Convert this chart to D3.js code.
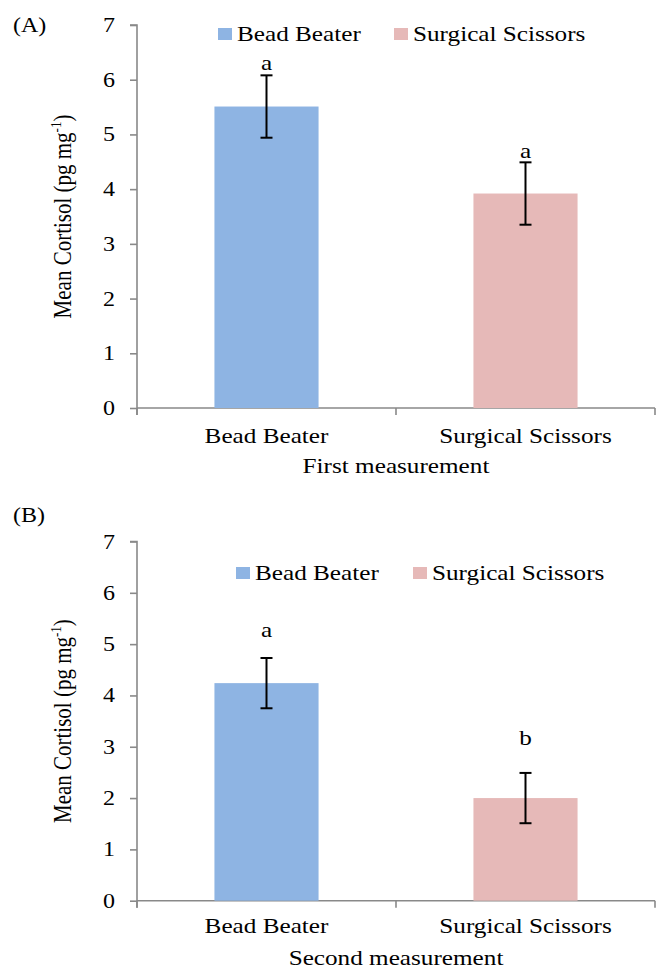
<!DOCTYPE html>
<html>
<head>
<meta charset="utf-8">
<script src="https://cdn.jsdelivr.net/npm/d3@7"></script>
<style>
body { margin: 0; background: #fff; }
text { font-family: "Liberation Serif", "Times New Roman", serif; fill: #000; }
</style>
</head>
<body>
<script>

// data
var categories = ["Bead Beater", "Surgical Scissors"];
var firstMean = [5.51, 3.92];
var firstErr = [0.57, 0.57];
var firstLetters = ["a", "a"];
var firstLetterAt = [6.18, 4.57];
var secondMean = [4.24, 2.0];
var secondErr = [0.49, 0.49];
var secondLetters = ["a", "b"];
var secondLetterAt = [5.14, 3.04];
var yTicks = [0, 1, 2, 3, 4, 5, 6, 7];

var colors = ["#8eb4e3", "#e6b9b8"];
var axisColor = "#898989";
var stretch = 1.2;

var svg = d3.select("body").append("svg")
    .attr("width", 659)
    .attr("height", 969);

// text in the source is squashed wider than it is tall
function stext(g, x, y, str, size, anchor) {
  return g.append("text")
      .attr("transform", "translate(" + x + "," + y + ") scale(" + stretch + ",1)")
      .attr("text-anchor", anchor || "start")
      .style("font-size", size + "px")
      .text(str);
}

function panel(opt) {
  var g = svg.append("g");

  var x = d3.scaleBand()
      .domain(categories)
      .range([137, 655])
      .paddingInner(0.598)
      .paddingOuter(0.299);

  var y = d3.scaleLinear()
      .domain([0, 7])
      .range([opt.bottom, opt.top]);

  // y axis
  var yAxis = g.append("g")
      .attr("transform", "translate(137,0)")
      .call(d3.axisLeft(y).tickValues(yTicks).tickSize(7).tickFormat(""));
  yAxis.select(".domain").attr("d", "M-7," + y(7) + "H0V" + (y(0) + 7));
  yAxis.selectAll("line, path").attr("stroke", axisColor).attr("stroke-width", 1.6);

  yTicks.forEach(function(t) {
    stext(g, 115, y(t) + 7, t, 20, "end");
  });

  // x axis
  var bounds = d3.range(categories.length + 1).map(function(i) { return x.range()[0] + i * x.step(); });
  var xa = g.append("g").attr("stroke", axisColor).attr("stroke-width", 1.6);
  xa.append("line")
      .attr("x1", bounds[0]).attr("x2", bounds[bounds.length - 1])
      .attr("y1", y(0)).attr("y2", y(0));
  xa.selectAll(".xt")
    .data(bounds)
    .enter().append("line")
      .attr("x1", function(d) { return d; })
      .attr("x2", function(d) { return d; })
      .attr("y1", y(0))
      .attr("y2", y(0) + 7);

  // bars
  g.selectAll(".bar")
    .data(categories)
    .enter().append("rect")
      .attr("x", function(d) { return x(d); })
      .attr("width", x.bandwidth())
      .attr("y", function(d, i) { return y(opt.mean[i]); })
      .attr("height", function(d, i) { return y(0) - y(opt.mean[i]); })
      .attr("fill", function(d, i) { return colors[i]; });

  // error bars
  categories.forEach(function(c, i) {
    var cx = x(c) + x.bandwidth() / 2;
    var hi = y(opt.mean[i] + opt.err[i]), lo = y(opt.mean[i] - opt.err[i]);
    var eb = g.append("g").attr("stroke", "#000").attr("stroke-width", 2);
    eb.append("line").attr("x1", cx).attr("x2", cx).attr("y1", hi).attr("y2", lo);
    eb.append("line").attr("x1", cx - 6).attr("x2", cx + 6).attr("y1", hi).attr("y2", hi);
    eb.append("line").attr("x1", cx - 6).attr("x2", cx + 6).attr("y1", lo).attr("y2", lo);
    stext(g, cx, y(opt.letterAt[i]), opt.letters[i], 21, "middle");
    stext(g, cx, opt.catY, c, 21, "middle");
  });

  stext(g, bounds[1], opt.titleY, opt.title, 21, "middle");
  stext(g, 13, opt.labelY, opt.label, 20, "start");

  // legend
  categories.forEach(function(c, i) {
    g.append("rect")
        .attr("x", opt.legX[i])
        .attr("y", opt.legY - 12)
        .attr("width", 14)
        .attr("height", 12)
        .attr("fill", colors[i]);
    stext(g, opt.legX[i] + 19, opt.legY + 1, c, 21, "start");
  });

  // y title, rotated
  var yt = g.append("text")
      .attr("transform", "translate(71," + ((opt.top + opt.bottom) / 2) + ") rotate(-90) scale(1," + stretch + ")")
      .attr("text-anchor", "middle")
      .style("font-size", "21px");
  yt.append("tspan").text("Mean Cortisol (pg mg");
  yt.append("tspan").attr("dy", -8).style("font-size", "13px").text("-1");
  yt.append("tspan").attr("dy", 8).text(")");
}

panel({
  top: 25, bottom: 408,
  mean: firstMean, err: firstErr, letters: firstLetters, letterAt: firstLetterAt,
  catY: 443, titleY: 473, title: "First measurement",
  label: "(A)", labelY: 32,
  legX: [218, 394], legY: 40
});

panel({
  top: 541.5, bottom: 900.7,
  mean: secondMean, err: secondErr, letters: secondLetters, letterAt: secondLetterAt,
  catY: 933, titleY: 965, title: "Second measurement",
  label: "(B)", labelY: 522,
  legX: [236, 413], legY: 579
});

</script>
</body>
</html>
